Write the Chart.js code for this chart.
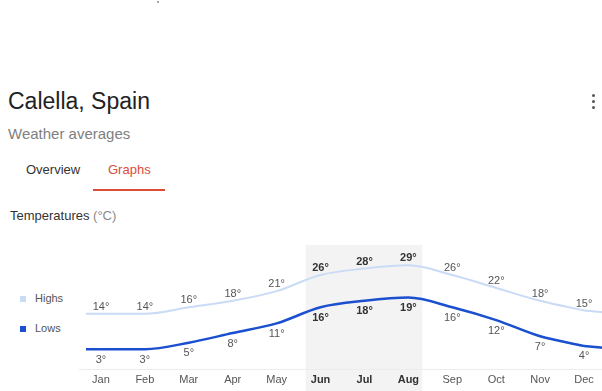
<!DOCTYPE html>
<html>
<head>
<meta charset="utf-8">
<script src="https://cdn.jsdelivr.net/npm/chart.js@4.4.0/dist/chart.umd.min.js"></script>
<style>
  html, body { margin: 0; padding: 0; width: 602px; height: 391px; overflow: hidden; background: #fff; font-family: "Liberation Sans", Arial, sans-serif; }
  .abs { position: absolute; white-space: nowrap; }
  #title { left: 8px; top: 88px; font-size: 23px; color: #222; }
  #sub { left: 8px; top: 125px; font-size: 15px; color: #808080; }
  #tab1 { left: 26px; top: 162px; font-size: 13px; color: #333; }
  #tab2 { left: 108px; top: 162px; font-size: 13px; color: #dd4b39; }
  #uline { left: 93px; top: 189px; width: 72px; height: 2px; background: #dd4b39; }
  #temps { left: 10px; top: 208px; font-size: 13px; color: #333; }
  #temps span { color: #888; }
  .dot { position: absolute; width: 3px; height: 3px; border-radius: 50%; background: #555; }
  .leg { position: absolute; left: 35px; font-size: 11px; color: #555; }
  .sq { position: absolute; left: 20px; width: 6px; height: 6px; }
  #wrap { position: absolute; left: 0; top: 240px; width: 630px; height: 151px; }
</style>
</head>
<body>
<div class="dot" style="left:157px;top:1px;width:2px;height:2px;background:#888"></div>
<div id="title" class="abs">Calella, Spain</div>
<div id="sub" class="abs">Weather averages</div>
<div id="tab1" class="abs">Overview</div>
<div id="tab2" class="abs">Graphs</div>
<div id="uline" class="abs"></div>
<div id="temps" class="abs">Temperatures <span>(°C)</span></div>
<div class="dot" style="left:592px;top:94px"></div>
<div class="dot" style="left:592px;top:100px"></div>
<div class="dot" style="left:592px;top:106px"></div>

<div class="sq" style="top:296px;background:#c9dbf5"></div>
<div class="leg" style="top:292px">Highs</div>
<div class="sq" style="top:326px;background:#1a4fcf"></div>
<div class="leg" style="top:322px">Lows</div>

<div id="wrap"><canvas id="tempChart"></canvas></div>

<script>
var months = ["Jan", "Feb", "Mar", "Apr", "May", "Jun", "Jul", "Aug", "Sep", "Oct", "Nov", "Dec"];
var highs = [14, 14, 16, 18, 21, 26, 28, 29, 26, 22, 18, 15];
var lows = [3, 3, 5, 8, 11, 16, 18, 19, 16, 12, 7, 4];
var summerMonths = [5, 6, 7];

var highColor = "#c9dbf5";
var lowColor = "#1a4fcf";

function isSummer(i) {
    return summerMonths.indexOf(i) !== -1;
}

// grey band behind jun-aug, drawn before the axis so the labels sit on top
var bandPlugin = {
    id: "band",
    beforeDraw: function (chart) {
        var ctx = chart.ctx;
        var x = chart.scales.x;
        var area = chart.chartArea;
        var left = x.getPixelForValue(summerMonths[0]) - 15;
        var right = x.getPixelForValue(summerMonths[summerMonths.length - 1]) + 14;
        ctx.save();
        ctx.fillStyle = "#f3f3f3";
        ctx.fillRect(left, area.top - 2, right - left, chart.height);
        ctx.restore();
    },
    // lines run out to the edges of the plot
    beforeDatasetsDraw: function (chart) {
        var ctx = chart.ctx;
        var area = chart.chartArea;
        chart.data.datasets.forEach(function (ds, di) {
            var pts = chart.getDatasetMeta(di).data;
            var first = pts[0];
            var last = pts[pts.length - 1];
            ctx.save();
            ctx.strokeStyle = ds.borderColor;
            ctx.lineWidth = ds.borderWidth;
            ctx.beginPath();
            ctx.moveTo(area.left + 7, first.y);
            ctx.lineTo(first.x, first.y);
            ctx.moveTo(last.x, last.y);
            ctx.lineTo(area.right, last.y + 2);
            ctx.stroke();
            ctx.restore();
        });
    }
};

var labelPlugin = {
    id: "valueLabels",
    afterDatasetsDraw: function (chart) {
        var ctx = chart.ctx;
        ctx.save();
        ctx.textAlign = "center";
        ctx.textBaseline = "middle";
        chart.data.datasets.forEach(function (ds, di) {
            var pts = chart.getDatasetMeta(di).data;
            pts.forEach(function (p, i) {
                var bold = isSummer(i);
                ctx.font = (bold ? "bold " : "") + "11px 'Liberation Sans', Arial, sans-serif";
                ctx.fillStyle = bold ? "#333" : "#555";
                var y = di === 0 ? p.y - 7 : p.y + 10.5;
                ctx.fillText(ds.data[i] + "°", p.x, y);
            });
        });
        ctx.restore();
    }
};

var ctx = document.getElementById("tempChart");
var tempChart = new Chart(ctx, {
    type: "line",
    data: {
        labels: months,
        datasets: [
            {
                label: "Highs",
                data: highs,
                borderColor: highColor,
                borderWidth: 2,
                pointRadius: 0,
                cubicInterpolationMode: "monotone"
            },
            {
                label: "Lows",
                data: lows,
                borderColor: lowColor,
                borderWidth: 2.5,
                pointRadius: 0,
                cubicInterpolationMode: "monotone"
            }
        ]
    },
    options: {
        responsive: true,
        maintainAspectRatio: false,
        animation: false,
        events: [],
        layout: { padding: { left: 79, right: 24, top: 7, bottom: 0 } },
        plugins: {
            legend: { display: false },
            tooltip: { enabled: false }
        },
        scales: {
            x: {
                offset: true,
                grid: { display: true, color: "rgba(0,0,0,0)", drawTicks: false },
                border: { display: true, color: "#ececec", width: 1 },
                ticks: {
                    padding: 4,
                    autoSkip: false,
                    maxRotation: 0,
                    font: function (c) {
                        return { family: "'Liberation Sans', Arial, sans-serif", size: 11, weight: isSummer(c.index) ? "bold" : "normal" };
                    },
                    color: function (c) {
                        return isSummer(c.index) ? "#333" : "#555";
                    }
                }
            },
            y: {
                display: false,
                min: -3.4,
                max: 34.7
            }
        }
    },
    plugins: [bandPlugin, labelPlugin]
});
</script>
</body>
</html>
